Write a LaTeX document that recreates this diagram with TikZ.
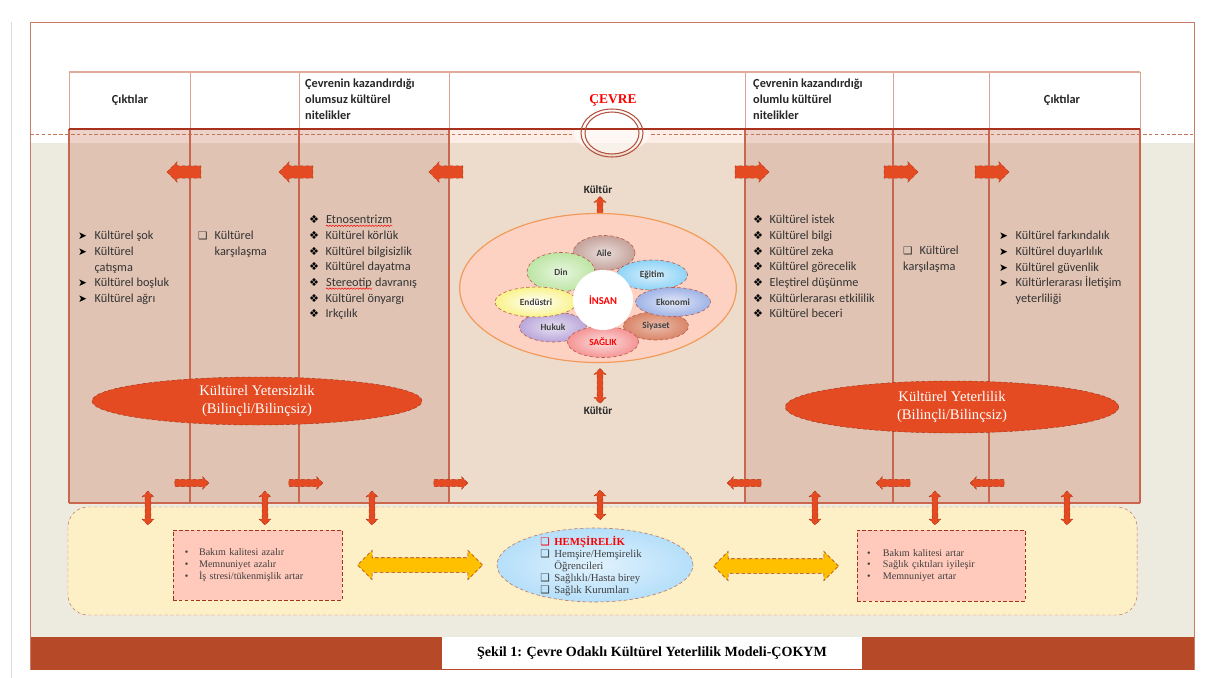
\documentclass[tikz,border=0pt]{standalone}
\usepackage{fontspec}
\setmainfont{Liberation Serif}
\setsansfont{Carlito}
\newfontfamily\dingfont{DejaVu Sans}
\usetikzlibrary{positioning,shapes.arrows,shapes.geometric,decorations.pathmorphing}

\definecolor{framered}{HTML}{BC5B45}
\definecolor{bandred}{HTML}{B64A28}
\definecolor{pagegray}{HTML}{EDEAE0}
\definecolor{panelbrown}{RGB}{194,107,77}
\definecolor{centerpeach}{RGB}{237,141,84}
\definecolor{gridred}{HTML}{C9664D}
\definecolor{headred}{HTML}{A8321E}
\definecolor{arrowred}{HTML}{E54B22}
\definecolor{ovalfill}{HTML}{FDD2C3}
\definecolor{ovalline}{HTML}{F29A59}
\definecolor{creamfill}{HTML}{FEF0C6}
\definecolor{dashbrown}{HTML}{C0765B}
\definecolor{pinkfill}{HTML}{FFC9BB}
\definecolor{goldfill}{HTML}{FFC000}
\definecolor{skyfill}{HTML}{B5DFFA}
\definecolor{aile}{HTML}{C4A29A}
\definecolor{din}{HTML}{BDE5A4}
\definecolor{egitim}{HTML}{8FD3F7}
\definecolor{endustri}{HTML}{F9F38A}
\definecolor{ekonomi}{HTML}{9FB3E6}
\definecolor{hukuk}{HTML}{B9A6D9}
\definecolor{siyaset}{HTML}{D98668}
\definecolor{saglik}{HTML}{F59494}

% bullets
\newcommand\arrb{\makebox[14pt][l]{\dingfont\fontsize{9}{9}\selectfont\color{black}➤}}
\newcommand\dmdb{\makebox[14pt][l]{\dingfont\fontsize{9.5}{9}\selectfont\color{black}❖}}
\newcommand\sqb{{\dingfont\fontsize{9}{9}\selectfont ❑}}
% red spell-check wave
\newcommand\spellerr[1]{\tikz[baseline=(sw.base)]{\node[inner sep=0pt] (sw) {#1};
  \draw[red, line width=.4pt, decorate, decoration={snake, amplitude=.6pt, segment length=2.6pt}] ([yshift=-1.8pt]sw.base west) -- ([yshift=-1.8pt]sw.base east);}}

\begin{document}
\begin{tikzpicture}[x=0.03cm,y=-0.03cm,
  every node/.style={inner sep=0pt},
  headtext/.style={font=\sffamily\bfseries\fontsize{10.5}{13.6}\selectfont, text=black!85, align=left},
  listtext/.style={font=\sffamily\fontsize{10.5}{13.4}\selectfont, text=black!80, align=left, anchor=north west},
  bigarrow/.style={single arrow, fill=arrowred, draw=arrowred!75!black, densely dashed, line width=.4pt, minimum height=1.02cm, inner ysep=.18cm, single arrow head extend=.12cm},
  thinarrow/.style={single arrow, fill=arrowred, draw=arrowred!75!black, densely dashed, line width=.4pt, minimum height=1.02cm, inner ysep=.1cm, single arrow head extend=.08cm},
  updown/.style={double arrow, rotate=90, fill=arrowred, draw=arrowred!75!black, densely dashed, line width=.4pt, inner ysep=.08cm, double arrow head extend=.09cm},
  golddouble/.style={double arrow, fill=goldfill, draw=arrowred!70!black, densely dashed, line width=.5pt, minimum height=3.75cm, inner ysep=.21cm, double arrow head extend=.22cm},
  petal/.style={ellipse, draw=headred!80, densely dashed, line width=.5pt, font=\sffamily\bfseries\fontsize{8}{9}\selectfont, text=black!75},
  redoval/.style={ellipse, fill=arrowred, draw=arrowred!70!black, densely dashed, text=white, font=\fontsize{12.5}{15.5}\selectfont, align=center},
  pinkbox/.style={rectangle, fill=pinkfill, draw=arrowred!70!black, densely dashed, font=\fontsize{8.6}{10}\selectfont, text=black!75, align=left},
  kultur/.style={font=\sffamily\bfseries\fontsize{9.5}{11}\selectfont, text=black!85}
]
\useasboundingbox (0,0) rectangle (1210,678);

% page frame and bands
\draw[black!15] (11,22) -- (11,678);
\fill[pagegray] (30,143) rectangle (1194,637);
\fill[bandred] (30,637) rectangle (1194,670);
\draw[framered!80] (30,670) -- (30,22) -- (1194,22) -- (1194,670);

% columns
\fill[panelbrown, fill opacity=.3] (69,129) rectangle (449,503);
\fill[centerpeach, fill opacity=.15] (449,129) rectangle (745,503);
\fill[panelbrown, fill opacity=.3] (745,129) rectangle (1140,503);
\fill[white, fill opacity=.6] (612,133) ellipse (38 and 20);
\draw[dashbrown, densely dashed] (30,134) -- (573,134) (651,134) -- (1194,134);
\fill[white] (69,72) rectangle (1140,129);
\foreach \cx in {69,190,299,449,745,893,989,1140}
  \draw[gridred!60] (\cx,72) -- (\cx,129);
\foreach \cx in {69,190,299,449,745,893,989,1140}
  \draw[gridred, line width=.9pt] (\cx,129) -- (\cx,503);
\draw[gridred!55, line width=1.2pt] (69,72) -- (1140,72);
\draw[gridred, line width=.9pt] (69,503) -- (1140,503);
\draw[headred, line width=1.8pt] (69,129) -- (1140,129);
\draw[headred!85, line width=.9pt] (612,133) ellipse (31 and 24);
\draw[headred!85, line width=.9pt] (612,133) ellipse (27 and 21);

% header
\node[headtext] (outl) at (130,100) {Çıktılar};
\node[headtext, anchor=north west] (negh) at (305,79) {Çevrenin kazandırdığı\\olumsuz kültürel\\nitelikler};
\node[font=\bfseries\fontsize{11.5}{13}\selectfont, text=red] (cevre) at (613,100) {ÇEVRE};
\node[headtext, anchor=north west] (posh) at (753,79) {Çevrenin kazandırdığı\\olumlu kültürel\\nitelikler};
\node[headtext] (outr) at (1062,100) {Çıktılar};

% lists
\node[listtext] (negout) at (78,231) {\arrb Kültürel şok\\ \arrb Kültürel\\ \hspace*{14pt}çatışma\\ \arrb Kültürel boşluk\\ \arrb Kültürel ağrı};
\node[listtext] (negmeet) at (198,231) {\makebox[14pt][l]{\sqb}Kültürel\\ \hspace*{14pt}karşılaşma};
\node[listtext] (negattr) at (309,215) {\dmdb\spellerr{Etnosentrizm}\\ \dmdb Kültürel körlük\\ \dmdb Kültürel bilgisizlik\\ \dmdb Kültürel dayatma\\ \dmdb\spellerr{Stereotip} davranış\\ \dmdb Kültürel önyargı\\ \dmdb Irkçılık};
\node[listtext] (posattr) at (753,215) {\dmdb Kültürel istek\\ \dmdb Kültürel bilgi\\ \dmdb Kültürel zeka\\ \dmdb Kültürel görecelik\\ \dmdb Eleştirel düşünme\\ \dmdb Kültürlerarası etkililik\\ \dmdb Kültürel beceri};
\node[listtext] (posmeet) at (903,246) {\makebox[14pt][l]{\sqb}Kültürel\\karşılaşma};
\node[listtext] (posout) at (999,231) {\arrb Kültürel farkındalık\\ \arrb Kültürel duyarlılık\\ \arrb Kültürel güvenlik\\ \arrb Kültürlerarası İletişim\\ \hspace*{14pt}yeterliliği};

% block arrows in the columns
\foreach \ax [count=\i] in {187,299,449}
  \node[bigarrow, rotate=180] (topl\i) at (\ax,172) {};
\foreach \ax [count=\i] in {749,898,989}
  \node[bigarrow] (topr\i) at (\ax,172) {};
\foreach \ax [count=\i] in {190,304,449}
  \node[thinarrow] (botl\i) at (\ax,483) {};
\foreach \ax [count=\i] in {746,895,989}
  \node[thinarrow, rotate=180] (botr\i) at (\ax,483) {};

% center: culture and human
\node[kultur] (kup) at (598,190) {Kültür};
\node[updown, minimum height=.87cm] (kua) at (600,211) {};
\node[ellipse, fill=ovalfill, draw=ovalline, line width=1pt, minimum width=8.3cm, minimum height=4.47cm] (cevreoval) at (598,288) {};
\node[petal, inner color=aile!35, outer color=aile, minimum width=1.86cm, minimum height=1.05cm] (aile) at (604,253) {Aile};
\node[petal, inner color=din!35, outer color=din, minimum width=2.04cm, minimum height=1.17cm] (din) at (561,272) {Din};
\node[petal, inner color=egitim!35, outer color=egitim, minimum width=2.13cm, minimum height=.9cm] (egitim) at (652,275) {Eğitim};
\node[petal, inner color=hukuk!35, outer color=hukuk, minimum width=2.01cm, minimum height=.9cm] (hukuk) at (553,327) {Hukuk};
\node[petal, inner color=siyaset!55, outer color=siyaset, minimum width=1.95cm, minimum height=.84cm] (siyaset) at (656,326) {Siyaset};
\node[petal, inner color=white, outer color=endustri, minimum width=2.46cm, minimum height=.9cm] (endustri) at (536,302) {Endüstri};
\node[petal, inner color=ekonomi!30, outer color=ekonomi, minimum width=2.25cm, minimum height=.87cm] (ekonomi) at (673,302) {Ekonomi};
\node[petal, inner color=saglik!30, outer color=saglik, minimum width=2.13cm, minimum height=.93cm, text=red] (saglik) at (603,342) {SAĞLIK};
\node[circle, fill=white, minimum size=1.8cm, font=\sffamily\bfseries\fontsize{9}{10}\selectfont, text=red] (insan) at (603,300) {İNSAN};
\node[updown, minimum height=1.05cm] (kda) at (600,386) {};
\node[kultur] (kdn) at (598,411) {Kültür};

% competence ovals
\node[redoval, minimum width=9.9cm, minimum height=1.44cm] (yetersiz) at (257,401) {Kültürel Yetersizlik\\(Bilinçli/Bilinçsiz)};
\node[redoval, minimum width=10cm, minimum height=1.56cm] (yeterli) at (952,407) {Kültürel Yeterlilik\\(Bilinçli/Bilinçsiz)};

% nursing band
\draw[dashbrown, densely dashed, fill=creamfill, rounded corners=.6cm] (68,507) rectangle (1137,615);
\foreach \ax [count=\i] in {148,265,372,815,935,1067}
  \node[updown, minimum height=1.02cm] (ud\i) at (\ax,508) {};
\node[updown, minimum height=.9cm] (udc) at (600,505) {};
\node[pinkbox, minimum width=5.07cm, minimum height=2.1cm, inner xsep=.36cm, text width=4.35cm] (worse) at (257.5,565) {\makebox[12pt][l]{•}Bakım kalitesi azalır\\ \makebox[12pt][l]{•}Memnuniyet azalır\\ \makebox[12pt][l]{•}İş stresi/tükenmişlik artar};
\node[pinkbox, minimum width=5.04cm, minimum height=2.13cm, inner xsep=.3cm, text width=4.44cm] (better) at (941,565.5) {\makebox[13.6pt][l]{•}Bakım kalitesi artar\\ \makebox[13.6pt][l]{•}Sağlık çıktıları iyileşir\\ \makebox[13.6pt][l]{•}Memnuniyet artar};
\node[golddouble] (gl) at (420,565) {};
\node[golddouble] (gr) at (776,566) {};
\node[ellipse, inner color=skyfill!40, outer color=skyfill, draw=dashbrown, densely dashed, line width=.5pt, minimum width=5.88cm, minimum height=2.22cm] (nurse) at (595,565) {};
\node[align=left, font=\fontsize{9.2}{10.3}\selectfont, text=black!75] (nursetxt) at (591,566) {\makebox[12pt][l]{\textcolor{red}{\sqb}}\textcolor{red}{\textbf{HEMŞİRELİK}}\\ \makebox[12pt][l]{\sqb}Hemşire/Hemşirelik\\ \hspace*{12pt}Öğrencileri\\ \makebox[12pt][l]{\sqb}Sağlıklı/Hasta birey\\ \makebox[12pt][l]{\sqb}Sağlık Kurumları};

% caption
\node[fill=white, minimum width=12.57cm, minimum height=.96cm, font=\bfseries\fontsize{12}{14}\selectfont] (caption) at (652,653) {Şekil 1: Çevre Odaklı Kültürel Yeterlilik Modeli-ÇOKYM};
\end{tikzpicture}
\end{document}
